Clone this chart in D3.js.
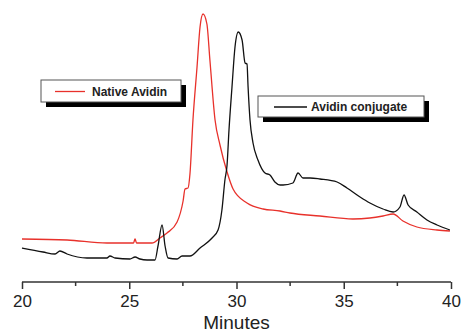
<!DOCTYPE html>
<html>
<head>
<meta charset="utf-8">
<script src="https://cdn.jsdelivr.net/npm/d3@7"></script>
<style>
  body { margin: 0; background: #fff; }
  svg text { font-family: "Liberation Sans", Arial, sans-serif; fill: #222; }
</style>
</head>
<body>
<div id="chart"></div>
<script>
// retention time (min) and detector signal (arbitrary units)
const nativeTime = [20.00, 22.10, 23.96, 25.20, 25.27, 25.34, 26.06, 26.43, 26.76, 27.23, 27.51, 27.60, 27.74, 27.83, 27.97, 28.16, 28.30, 28.44, 28.62, 28.76, 29.00, 29.23, 29.56, 29.84, 30.49, 31.24, 32.03, 32.49, 33.89, 35.43, 36.22, 36.83, 37.30, 37.76, 38.41, 39.35, 39.95];
const nativeSignal = [43, 42, 39, 39, 43, 39, 39, 44, 49, 60, 81, 93, 94, 108, 162, 215, 255, 268, 258, 222, 162, 137, 110, 93, 79, 73, 71, 69, 66, 63, 64, 66, 68, 61, 55, 52, 51];

const conjTime = [20.00, 20.98, 21.54, 21.77, 22.10, 23.03, 23.96, 24.10, 24.34, 25.03, 25.27, 25.50, 25.83, 26.20, 26.34, 26.53, 26.67, 26.81, 27.23, 27.46, 27.83, 28.30, 28.86, 29.14, 29.32, 29.46, 29.56, 29.65, 29.79, 29.93, 30.08, 30.26, 30.40, 30.49, 30.54, 30.63, 30.77, 31.00, 31.33, 31.56, 31.79, 32.03, 32.17, 32.63, 32.87, 33.10, 33.43, 33.89, 34.69, 35.15, 35.76, 36.22, 36.83, 37.30, 37.62, 37.81, 38.00, 38.41, 38.88, 39.35, 39.95];
const conjSignal = [34, 30, 28, 31, 28, 24, 24, 26, 24, 23, 25, 23, 22, 22, 36, 57, 36, 24, 23, 26, 26, 34, 44, 52, 72, 102, 117, 152, 195, 235, 250, 242, 219, 218, 195, 162, 139, 122, 109, 107, 100, 97, 97, 99, 109, 104, 104, 103, 100, 94, 85, 79, 73, 70, 75, 87, 77, 70, 62, 57, 52];

const xTicks = [20, 25, 30, 35, 40];
const xMinorTicks = [22.5, 27.5, 32.5, 37.5];
const seriesNames = ['Native Avidin', 'Avidin conjugate'];
const seriesColors = ['#e8312b', '#111'];

const width = 462, height = 332;
const margin = {top: 2, right: 11, bottom: 50, left: 22};

const svg = d3.select('#chart').append('svg')
  .attr('width', width)
  .attr('height', height);

const x = d3.scaleLinear()
  .domain([20, 40])
  .range([margin.left, width - margin.right]);
const y = d3.scaleLinear()
  .domain([0, 280])
  .range([height - margin.bottom, margin.top]);

const line = d3.line()
  .x(d => x(d[0]))
  .y(d => y(d[1]))
  .curve(d3.curveMonotoneX);

const nativeData = nativeTime.map((t, i) => [t, nativeSignal[i]]);
const conjData = conjTime.map((t, i) => [t, conjSignal[i]]);

svg.append('path')
  .datum(nativeData)
  .attr('d', line)
  .attr('fill', 'none')
  .attr('stroke', seriesColors[0])
  .attr('stroke-width', 1.3);

svg.append('path')
  .datum(conjData)
  .attr('d', line)
  .attr('fill', 'none')
  .attr('stroke', seriesColors[1])
  .attr('stroke-width', 1.3);

// bottom axis
const axisY = height - margin.bottom;
const axisG = svg.append('g')
  .attr('transform', `translate(0,${axisY})`);
axisG.call(d3.axisBottom(x).tickValues(xTicks).tickSize(7).tickPadding(6).tickFormat(d3.format('d')));
axisG.select('.domain').attr('stroke', '#333').attr('stroke-width', 1.5).attr('d', `M${x(20)},0H${x(40)}`);
axisG.selectAll('.tick line').attr('stroke', '#333').attr('stroke-width', 1.5);
axisG.selectAll('.tick text')
  .style('font-family', '"Liberation Sans", Arial, sans-serif')
  .style('font-size', '17px')
  .attr('fill', '#222');

axisG.selectAll('.minor')
  .data(xMinorTicks)
  .enter().append('line')
  .attr('class', 'minor')
  .attr('x1', d => x(d))
  .attr('x2', d => x(d))
  .attr('y1', 0)
  .attr('y2', 4)
  .attr('stroke', '#333')
  .attr('stroke-width', 1.5);

svg.append('text')
  .attr('x', (x(20) + x(40)) / 2)
  .attr('y', 329)
  .attr('text-anchor', 'middle')
  .style('font-size', '19px')
  .text('Minutes');

// legends with drop shadow
const legends = [
  {name: seriesNames[0], color: seriesColors[0], x: 41, y: 80, w: 140, h: 22},
  {name: seriesNames[1], color: seriesColors[1], x: 258, y: 96, w: 166, h: 21}
];

legends.forEach(l => {
  const g = svg.append('g').attr('transform', `translate(${l.x},${l.y})`);
  g.append('rect')
    .attr('x', 5).attr('y', 5)
    .attr('width', l.w).attr('height', l.h)
    .attr('fill', '#000');
  g.append('rect')
    .attr('x', 0).attr('y', 0)
    .attr('width', l.w).attr('height', l.h)
    .attr('fill', '#fff')
    .attr('stroke', '#555')
    .attr('stroke-width', 1);
  g.append('line')
    .attr('x1', l.name === seriesNames[0] ? 14 : 16)
    .attr('x2', l.name === seriesNames[0] ? 44 : 49)
    .attr('y1', l.h / 2 + 0.5)
    .attr('y2', l.h / 2 + 0.5)
    .attr('stroke', l.color)
    .attr('stroke-width', 1.3);
  g.append('text')
    .attr('x', l.name === seriesNames[0] ? 51 : 53)
    .attr('y', l.h / 2 + 4.5)
    .style('font-size', '12px')
    .style('font-weight', 'bold')
    .text(l.name);
});
</script>
</body>
</html>
